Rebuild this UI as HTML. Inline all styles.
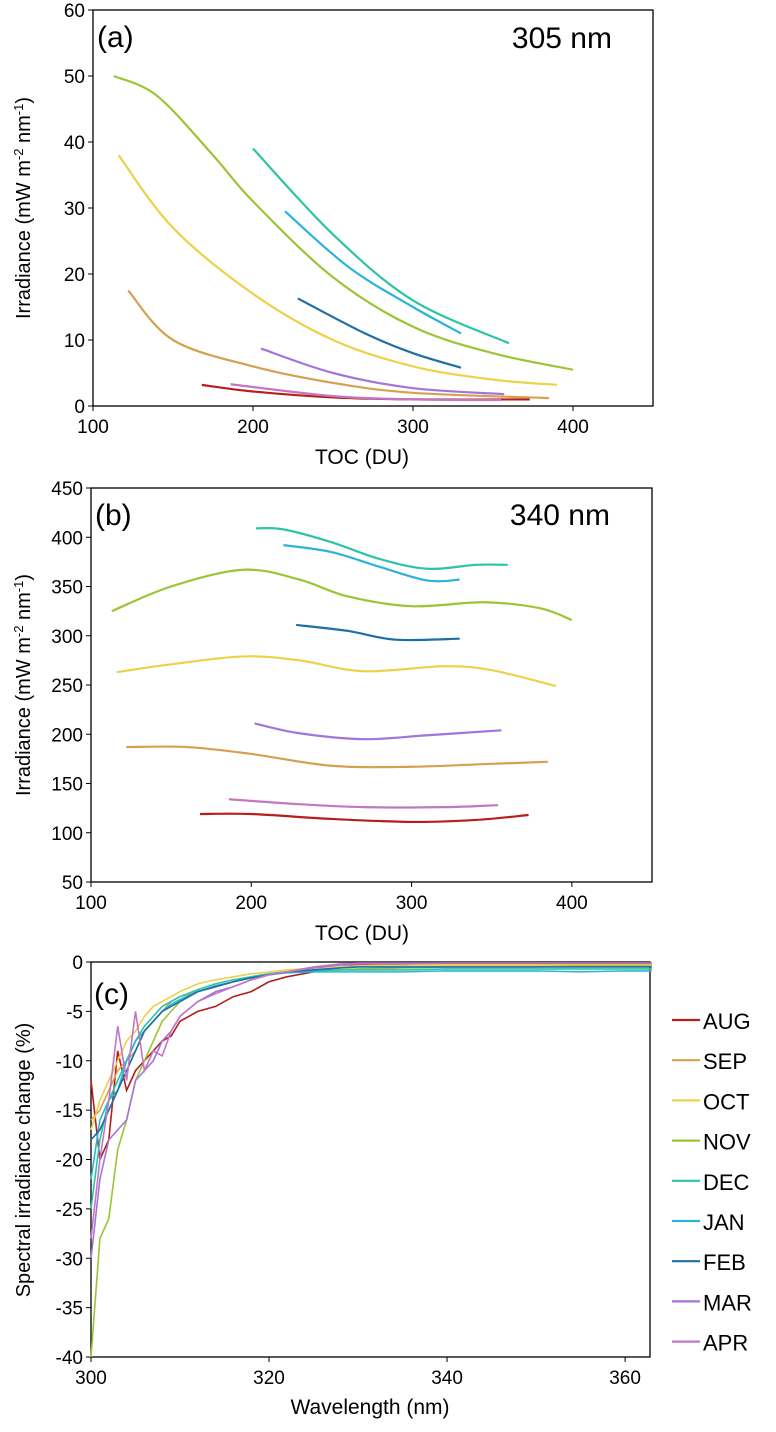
<!DOCTYPE html>
<html><head><meta charset="utf-8"><style>
html,body{margin:0;padding:0;background:#fff;}
svg{display:block;font-family:"Liberation Sans",sans-serif;}
</style></head><body>
<svg id="fig" width="776" height="1432" viewBox="0 0 776 1432"></svg>
<script>
const months=['AUG','SEP','OCT','NOV','DEC','JAN','FEB','MAR','APR'];
const colors=['#b81c1c','#d6a04e','#ecd24a','#9cc434','#2cc4a6','#2cb4d8','#1f6ea6','#a274dc','#c276c4'];
// Panel a (305 nm): TOC and irradiance per month
const aToc=[[168,200,250,300,373],[122,150,200,250,300,385],[116,150,200,250,300,350,390],[113,140,175,200,250,300,350,400],[200,250,300,360],[220,260,300,330],[228,270,300,330],[205,250,300,357],[186,250,300,355]];
const aIrr=[[3.2,2.2,1.3,1.0,1.0],[17.5,10,6,3.5,2,1.2],[38,27,17,10,6,4,3.2],[50,47,38,31,19.5,12,8,5.5],[39,26,16,9.5],[29.5,21,15,11],[16.3,11,8,5.8],[8.7,5,2.7,1.8],[3.3,1.5,1.0,0.9]];
// Panel b (340 nm)
const bToc=[[168,200,250,300,340,373],[122,160,200,250,300,350,385],[116,150,195,230,270,320,350,390],[113,150,195,230,260,300,345,380,400],[203,220,250,280,310,340,360],[220,250,280,310,330],[228,260,290,330],[202,230,270,310,356],[186,230,270,320,354]];
const bIrr=[[119,119,114,111,113,118],[187,187,180,168,167,170,172],[263,271,279,275,264,269,265,249],[325,350,367,357,340,330,334,328,316],[409,408,395,378,368,372,372],[392,385,370,356,357],[311,305,296,297],[211,201,195,199,204],[134,129,126,126,128]];
// Panel c spectral change
const cWl=[300,301,302,303,304,305,306,307,308,309,310,312,314,316,318,320,322,325,328,330,335,340,345,350,355,360,363];
const cAUG=[-12,-20,-18,-9,-13,-11,-10,-9,-8,-7.5,-6,-5,-4.5,-3.5,-3,-2,-1.5,-1,-0.5,-0.3,-0.3,-0.2,-0.2,-0.2,-0.2,-0.2,-0.2];
const cSEP=[-16,-15,-13,-11,-10,-9,-7,-6,-5,-4,-3.5,-3,-2.5,-2,-1.5,-1.2,-1,-0.8,-0.5,-0.4,-0.3,-0.3,-0.3,-0.3,-0.3,-0.3,-0.3];
const cOCT=[-17,-14,-12,-10,-8,-7,-5.5,-4.5,-4,-3.5,-3,-2.2,-1.8,-1.5,-1.2,-1,-0.8,-0.6,-0.5,-0.4,-0.3,-0.3,-0.3,-0.3,-0.3,-0.3,-0.3];
const cNOV=[-40,-28,-26,-19,-16,-12,-10,-8,-6,-5,-4,-3,-2.5,-2,-1.5,-1.2,-1,-0.9,-0.8,-0.7,-0.6,-0.5,-0.5,-0.5,-0.4,-0.4,-0.4];
const cDEC=[-25,-18,-14,-12,-10,-8,-6.5,-5.5,-4.5,-4,-3.5,-2.8,-2.2,-1.8,-1.5,-1.2,-1,-0.9,-0.8,-0.8,-0.8,-0.7,-0.7,-0.7,-0.7,-0.7,-0.7];
const cJAN=[-22,-16,-14,-13,-10,-8,-7,-6,-5,-4.3,-3.8,-3,-2.4,-2,-1.6,-1.3,-1.1,-1,-1,-1,-1,-0.9,-0.9,-0.9,-1,-0.9,-0.9];
const cFEB=[-18,-17,-15,-13,-11,-9,-7,-6,-5,-4.5,-4,-3,-2.5,-2,-1.6,-1.3,-1,-0.8,-0.6,-0.5,-0.5,-0.5,-0.5,-0.5,-0.5,-0.5,-0.5];
const cMAR=[-30,-22,-18,-17,-16,-12,-11,-10,-8,-7,-5.5,-4,-3,-2.5,-1.8,-1.3,-1,-0.6,-0.3,-0.2,-0.2,-0.1,-0.1,-0.1,-0.1,-0.1,-0.1];
const cAPR=[-28,-20,-14,-6.5,-12,-5,-11,-9,-9.5,-7,-5.5,-4,-3.2,-2.5,-1.8,-1.3,-1,-0.5,-0.2,-0.1,-0.1,-0.1,-0.1,-0.1,-0.1,-0.1,-0.1];
const cVals=[cAUG,cSEP,cOCT,cNOV,cDEC,cJAN,cFEB,cMAR,cAPR];
const aYTicks=[0,10,20,30,40,50,60];
const bYTicks=[50,100,150,200,250,300,350,400,450];
const tocTicks=[100,200,300,400];
const cYTicks=[0,-5,-10,-15,-20,-25,-30,-35,-40];
const cXTicks=[300,320,340,360];

const NS='http://www.w3.org/2000/svg';
const svg=document.getElementById('fig');
function el(tag,attrs,parent){const e=document.createElementNS(NS,tag);for(const k in attrs)e.setAttribute(k,attrs[k]);(parent||svg).appendChild(e);return e;}
function txt(s,x,y,size,anchor,parent){const t=el('text',{x:x,y:y,'font-size':size,'text-anchor':anchor||'middle',fill:'#000'},parent);t.textContent=s;return t;}
function smooth(pts){let d='M'+pts[0][0]+','+pts[0][1];for(let i=0;i<pts.length-1;i++){const p0=pts[i-1]||pts[i],p1=pts[i],p2=pts[i+1],p3=pts[i+2]||p2;d+=' C'+(p1[0]+(p2[0]-p0[0])/6)+','+(p1[1]+(p2[1]-p0[1])/6)+' '+(p2[0]-(p3[0]-p1[0])/6)+','+(p2[1]-(p3[1]-p1[1])/6)+' '+p2[0]+','+p2[1];}return d;}

function panel(name,L,T,R,B,xmin,xmax,ymin,ymax,xt,yt){
  const g=el('g',{});
  
  
  const sx=v=>L+(v-xmin)/(xmax-xmin)*(R-L);
  const sy=v=>B-(v-ymin)/(ymax-ymin)*(B-T);
  const box=el('rect',{x:L,y:T,width:R-L,height:B-T,fill:'none',stroke:'#000','stroke-width':1.3},g);
  
  
  xt.forEach(v=>{el('line',{x1:sx(v),x2:sx(v),y1:B,y2:B+5,stroke:'#000'},g);const t=txt(v,sx(v),B+27,19,'middle',g);});
  yt.forEach(v=>{el('line',{x1:L-5,x2:L,y1:sy(v),y2:sy(v),stroke:'#000'},g);const t=txt(v,L-8,sy(v)+7,19,'end',g);});
  return {g,sx,sy};
}
function yTitle(x,y,parent){const t=el('text',{x:0,y:0,'font-size':20,'text-anchor':'middle',transform:'translate('+x+','+y+') rotate(-90)'},parent);t.innerHTML='Irradiance (mW m<tspan font-size="13" dy="-7">-2</tspan><tspan dy="7"> nm</tspan><tspan font-size="13" dy="-7">-1</tspan><tspan dy="7">)</tspan>';}

// Panel a
const A=panel('panel-a-305nm',93,10,653,406,100,450,0,60,tocTicks,aYTicks);
months.forEach((m,i)=>{const p=el('path',{d:smooth(aToc[i].map((t,j)=>[A.sx(t),A.sy(aIrr[i][j])])),fill:'none',stroke:colors[i],'stroke-width':2.2},A.g);});
let t=txt('(a)',97,47,30,'start',A.g);
t=txt('305 nm',612,48,30,'end',A.g);
t=txt('TOC (DU)',362,464,21,'middle',A.g);
yTitle(30,208,A.g);

// Panel b
const Bp=panel('panel-b-340nm',91,488,652,882,100,450,50,450,tocTicks,bYTicks);
months.forEach((m,i)=>{const p=el('path',{d:smooth(bToc[i].map((t,j)=>[Bp.sx(t),Bp.sy(bIrr[i][j])])),fill:'none',stroke:colors[i],'stroke-width':2.2},Bp.g);});
t=txt('(b)',95,525,30,'start',Bp.g);
t=txt('340 nm',610,525,30,'end',Bp.g);
t=txt('TOC (DU)',362,940,21,'middle',Bp.g);
yTitle(30,685,Bp.g);

// Panel c
const C=panel('panel-c-spectral',91,962,650,1357,300,362.8,-40,0,cXTicks,cYTicks);
months.forEach((m,i)=>{const p=el('polyline',{points:cWl.map((w,j)=>C.sx(w)+','+C.sy(cVals[i][j])).join(' '),fill:'none',stroke:colors[i],'stroke-width':1.6},C.g);});
t=txt('(c)',94,1004,30,'start',C.g);
t=txt('Wavelength (nm)',370,1414,21,'middle',C.g);
const yt=el('text',{x:0,y:0,'font-size':20,'text-anchor':'middle',transform:'translate(30,1160) rotate(-90)'},C.g);
yt.textContent='Spectral irradiance  change (%)';



// Legend
const lg=el('g',{});


months.forEach((m,i)=>{const y=1020+i*40.2;const e=el('g',{},lg);


el('line',{x1:672,x2:700,y1:y,y2:y,stroke:colors[i],'stroke-width':2.2},e);txt(m,703,y+9,22,'start',e);});
</script>
</body></html>
